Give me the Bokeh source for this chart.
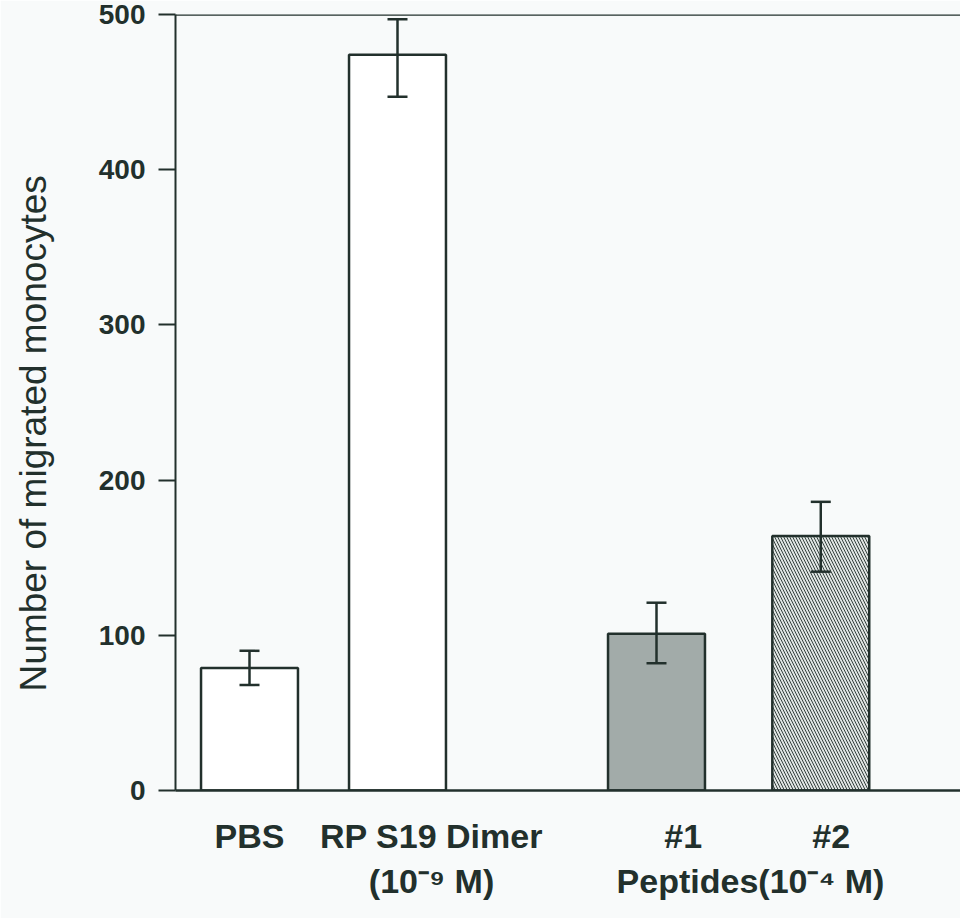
from bokeh.plotting import figure
from bokeh.models import (ColumnDataSource, Whisker, TeeHead, Span,
                          FixedTicker, Range1d, LinearAxis)
from bokeh.embed import file_html
from bokeh.resources import INLINE

# ---- data ----
categories = ["PBS", "RP S19 Dimer", "#1", "#2"]
x_pos = [1.0, 2.0, 3.75, 4.86]
means = [79, 474, 101, 164]
err_upper = [90, 497, 121, 186]
err_lower = [68, 447, 82, 141]
fills = ["#ffffff", "#ffffff", "#a2aba9", "#dfe4e2"]
hatches = [" ", " ", " ", "\\"]
y_ticks = [0, 100, 200, 300, 400, 500]
row2_labels = ["(10\u207b\u2079 M)", "Peptides(10\u207b\u2074 M)"]
y_title = "Number of migrated monocytes"

# label placement nudges (in x-axis units) for the hand-placed labels of the figure
row1_shift = [0.0, 0.23, 0.18, 0.07]
row2_shift = [0.23, 0.08]

INK = "#22302c"
BG = "#f8fafa"
FONT = "'Liberation Sans', Arial, Helvetica, sans-serif"

src = ColumnDataSource(dict(x=x_pos, top=means, upper=err_upper, lower=err_lower,
                            fill=fills, hatch=hatches))

p = figure(width=960, height=918, output_backend="svg", toolbar_location=None,
           x_range=Range1d(0.5, 0.5 + 785 / 148), y_range=Range1d(0, 500),
           min_border_left=175, min_border_right=0, min_border_top=14,
           min_border_bottom=128)
p.background_fill_color = BG
p.border_fill_color = BG
p.outline_line_color = None
p.grid.visible = False

p.vbar(x="x", top="top", width=0.655, source=src, fill_color="fill",
       hatch_pattern="hatch", hatch_color=INK, hatch_scale=6, hatch_weight=0.9,
       line_color=INK, line_width=2.5)

tee = dict(size=20, line_width=2.5, line_color=INK)
p.add_layout(Whisker(base="x", upper="upper", lower="lower", source=src,
                     line_color=INK, line_width=2.5, level="overlay",
                     upper_head=TeeHead(**tee), lower_head=TeeHead(**tee)))

p.add_layout(Span(location=500, dimension="width", line_color=INK, line_width=2.5))

# y axis
ya = p.yaxis[0]
ya.ticker = FixedTicker(ticks=y_ticks)
ya.axis_line_color = INK
ya.axis_line_width = 2
ya.major_tick_line_color = INK
ya.major_tick_line_width = 2
ya.major_tick_out = 17
ya.major_tick_in = 0
ya.minor_tick_line_color = None
ya.major_label_standoff = 13
ya.major_label_text_font = FONT
ya.major_label_text_font_style = "bold"
ya.major_label_text_font_size = "28px"
ya.major_label_text_color = INK
ya.axis_label = y_title + "\u00a0" * 6
ya.axis_label_text_font = FONT
ya.axis_label_text_font_style = "normal"
ya.axis_label_text_font_size = "37px"
ya.axis_label_text_color = INK
ya.axis_label_standoff = 42

# x axis, first row of labels
row1_pos = [x + s for x, s in zip(x_pos, row1_shift)]
xa = p.xaxis[0]
xa.ticker = FixedTicker(ticks=row1_pos)
xa.major_label_overrides = {x: c for x, c in zip(row1_pos, categories)}
xa.axis_line_color = INK
xa.axis_line_width = 2.5
xa.major_tick_line_color = None
xa.minor_tick_line_color = None
xa.major_label_standoff = 20
xa.major_label_text_font = FONT
xa.major_label_text_font_style = "bold"
xa.major_label_text_font_size = "34px"
xa.major_label_text_color = INK

# second row of labels
pc = (x_pos[2] + x_pos[3]) / 2
row2_pos = [x_pos[1] + row2_shift[0], pc + row2_shift[1]]
xa2 = LinearAxis(ticker=FixedTicker(ticks=row2_pos),
                 major_label_overrides={x: t for x, t in zip(row2_pos, row2_labels)})
xa2.axis_line_color = None
xa2.major_tick_line_color = None
xa2.minor_tick_line_color = None
xa2.major_label_standoff = -2
xa2.major_label_text_font = FONT
xa2.major_label_text_font_style = "bold"
xa2.major_label_text_font_size = "34px"
xa2.major_label_text_color = INK
p.add_layout(xa2, "below")

open("out.html", "w").write(file_html(p, INLINE))
